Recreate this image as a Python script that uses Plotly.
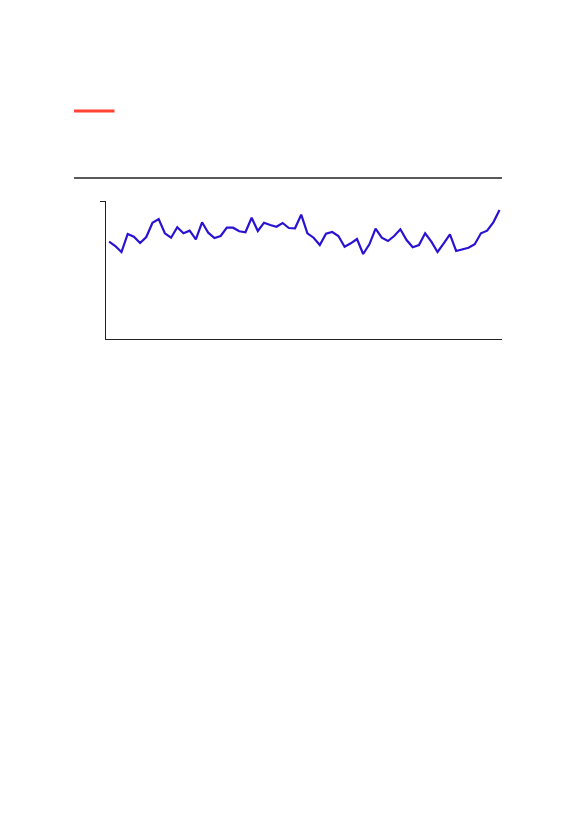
import plotly.graph_objects as go

# series (y axis runs 0..138)
x_idx = list(range(64))
values = [97.3, 93, 87, 105, 102.3, 96, 102, 116.3, 120, 105.7,
          101.3, 111.7, 105.7, 108.3, 99.7, 116.7, 106.3, 101, 103, 111.3,
          111.3, 107.7, 106.7, 121.3, 108, 116.3, 114, 112.3, 116, 111,
          110.7, 124.3, 105.7, 101.3, 94, 105.3, 107, 103, 92.3, 95.7,
          100, 85, 94.7, 110.3, 101.3, 98, 103, 109.7, 99, 91.7,
          94, 105.7, 97.3, 87, 95.7, 104.7, 88, 89.7, 91.3, 94.7,
          105.7, 108.3, 116.7, 129]

fig = go.Figure()
fig.add_trace(go.Scatter(
    x=x_idx, y=values, mode="lines",
    line=dict(color="#2a12d2", width=2.2),
    showlegend=False, hoverinfo="skip",
))

fig.update_xaxes(
    range=[-0.5, 63.4], showgrid=False, zeroline=False,
    showline=True, linecolor="#222", linewidth=1.3,
    ticks="", showticklabels=False,
)
fig.update_yaxes(
    range=[0, 138], showgrid=False, zeroline=False,
    showline=True, linecolor="#222", linewidth=1.3,
    tickmode="array", tickvals=[138], ticks="outside",
    ticklen=5, tickwidth=1.3, tickcolor="#222", showticklabels=False,
)

# header rule and red accent mark above the plot
fig.add_shape(type="line", xref="paper", yref="paper",
              x0=-32 / 396.5, x1=1.0, y0=161 / 138, y1=161 / 138,
              line=dict(color="#222", width=1.3))
fig.add_shape(type="line", xref="paper", yref="paper",
              x0=-32 / 396.5, x1=8.5 / 396.5, y0=228 / 138, y1=228 / 138,
              line=dict(color="#ff4433", width=3))

fig.update_layout(
    width=583, height=827,
    margin=dict(l=98, r=88.5, t=193, b=496),
    paper_bgcolor="white", plot_bgcolor="white",
)
fig.write_html("out.html")
